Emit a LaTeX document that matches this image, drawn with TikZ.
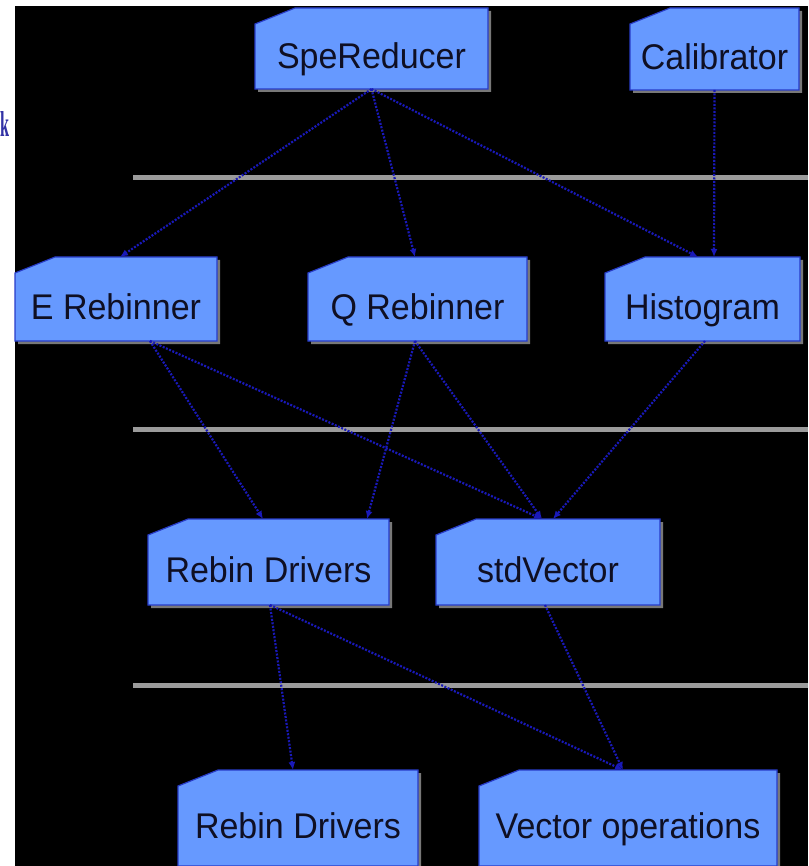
\documentclass[tikz,border=0pt]{standalone}
\usepackage{fontspec}
\setmainfont{Liberation Sans}
\newfontfamily\serifface{Liberation Serif}
\usetikzlibrary{arrows.meta}

\definecolor{cardfill}{RGB}{102,153,255}
\definecolor{cardedge}{RGB}{40,60,200}
\definecolor{cardshadow}{RGB}{120,120,120}
\definecolor{depline}{RGB}{25,25,185}
\definecolor{tiergrey}{RGB}{155,155,155}
\definecolor{markblue}{RGB}{50,50,165}
\definecolor{labelink}{RGB}{15,15,35}

\tikzset{
  cardshade/.style={fill=cardshadow},
  cardface/.style={fill=cardfill, draw=cardedge, line width=1.2pt, line join=miter},
  cardanchor/.style={shape=rectangle, draw=none, fill=none, inner sep=0pt, outer sep=0pt},
  cardtext/.style={inner sep=0pt, text=labelink, yshift=-11pt,
    font=\fontsize{34}{36}\selectfont, text height=26pt, text depth=7pt},
  dep/.style={draw=depline, line width=2.2pt, dash pattern=on 2pt off 1.5pt,
    -{Latex[length=8pt,width=7pt]}},
  tierline/.style={draw=tiergrey, line width=5pt}
}

% #1 name, #2 left, #3 top, #4 right, #5 bottom, #6 text
\newcommand\cardbox[6]{%
  \fill[cardshade] (#2+3,#3+19) -- (#2+43,#3+3) -- (#4+3,#3+3) -- (#4+3,#5+3) -- (#2+3,#5+3) -- cycle;
  \draw[cardface] (#2,#3+16) -- (#2+40,#3) -- (#4,#3) -- (#4,#5) -- (#2,#5) -- cycle;
  \node[cardanchor, minimum width={#4-#2}, minimum height={#5-#3},
    label={[cardtext, name=#1-text]center:\scalebox{1}[1.05]{#6}}]
    (#1) at ({(#2+#4)/2},{(#3+#5)/2}) {};
}

\begin{document}
\begin{tikzpicture}[x=1pt, y=-1pt]
\useasboundingbox (0,0) rectangle (808,866);
\fill[white] (0,0) rectangle (808,866);
\fill[black] (15,6) rectangle (808,866);

% letter on the left margin
\node[font=\serifface\bfseries\fontsize{36}{36}\selectfont, text=markblue, anchor=base west,
  inner sep=0pt] (mark) at (0,137) {\scalebox{0.45}[1]{k}};

% tier separators
\draw[tierline] (133,178) -- (808,178);
\draw[tierline] (133,429) -- (808,429);
\draw[tierline] (133,685) -- (808,685);

% components
\cardbox{spe}{255}{8}{488}{89}{SpeReducer}
\cardbox{cal}{630}{8}{799}{90}{Calibrator}
\cardbox{erb}{15}{257}{217}{341}{E Rebinner}
\cardbox{qrb}{308}{257}{527}{341}{Q Rebinner}
\cardbox{hist}{605}{257}{800}{341}{Histogram}
\cardbox{rbd}{148}{519}{389}{605}{Rebin Drivers}
\cardbox{stv}{436}{519}{660}{605}{stdVector}
\cardbox{rbdlow}{178}{770}{418}{866}{Rebin Drivers}
\cardbox{vop}{479}{770}{777}{866}{Vector operations}

% dependencies
\draw[dep] (spe.south) -- ([xshift=4pt]erb.north);
\draw[dep] (spe.south) -- ([xshift=-2.5pt]qrb.north);
\draw[dep] (spe.south) -- ([xshift=-4.5pt]hist.north);
\draw[dep] (cal.south) -- ([xshift=11.5pt]hist.north);

\draw[dep] ([xshift=34pt]erb.south) -- ([xshift=-5.5pt]rbd.north);
\draw[dep] ([xshift=34pt]erb.south) -- ([xshift=-6pt]stv.north);
\draw[dep] ([xshift=-2.5pt]qrb.south) -- ([xshift=98.5pt]rbd.north);
\draw[dep] ([xshift=-2.5pt]qrb.south) -- ([xshift=-6pt]stv.north);
\draw[dep] ([xshift=2.5pt]hist.south) -- ([xshift=5pt]stv.north);

\draw[dep] ([xshift=1.5pt]rbd.south) -- ([xshift=-5pt]rbdlow.north);
\draw[dep] ([xshift=1.5pt]rbd.south) -- ([xshift=-5pt]vop.north);
\draw[dep] ([xshift=-3pt]stv.south) -- ([xshift=-5pt]vop.north);
\end{tikzpicture}
\end{document}
